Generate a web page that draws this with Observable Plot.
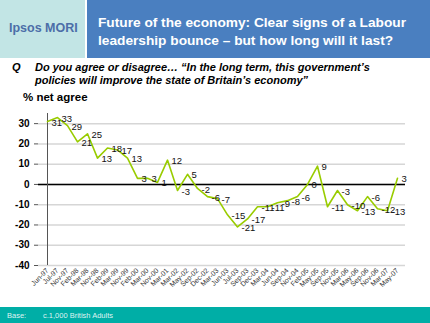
<!DOCTYPE html>
<html>
<head>
<meta charset="utf-8">
<script src="https://cdn.jsdelivr.net/npm/d3@7"></script>
<script src="https://cdn.jsdelivr.net/npm/@observablehq/plot@0.6"></script>
<style>
  body { margin: 0; background: #fff; font-family: "Liberation Sans", Arial, sans-serif; }
  #wrap { position: relative; width: 430px; height: 323px; overflow: hidden; background: #fff; }
  .abs { position: absolute; }
  #logo { left: 0; top: 0; width: 85px; height: 58px; background: #c2e5e5; }
  #logo span { position: absolute; left: 9px; top: 21px; font-size: 12.5px; font-weight: bold; color: #4c6ea8; white-space: nowrap; }
  #title { left: 87px; top: 0; width: 343px; height: 58px; background: #4a7fc0; }
  #title div { position: absolute; left: 11px; top: 14px; font-size: 13.7px; font-weight: bold; color: #fff; line-height: 18px; white-space: nowrap; }
  #q { left: 12px; top: 61px; font-size: 11px; font-weight: bold; font-style: italic; color: #000; line-height: 13px; }
  #qt { left: 35px; top: 61px; font-size: 11px; font-weight: bold; font-style: italic; color: #000; line-height: 13px; white-space: nowrap; }
  #ylab { left: 23px; top: 91px; font-size: 11.5px; font-weight: bold; color: #000; white-space: nowrap; }
  #chart { left: 0; top: 95px; }
  #foot { left: 0; top: 307px; width: 430px; height: 16px; background: #00aea6; color: #dff3f2; font-size: 7.5px; }
  #foot span { position: absolute; top: 4px; white-space: nowrap; }
</style>
</head>
<body>
<div id="wrap">
  <div id="logo" class="abs"><span>Ipsos MORI</span></div>
  <div id="title" class="abs"><div>Future of the economy: Clear signs of a Labour<br>leadership bounce – but how long will it last?</div></div>
  <div id="q" class="abs">Q</div>
  <div id="qt" class="abs">Do you agree or disagree… “In the long term, this government’s<br>policies will improve the state of Britain’s economy”</div>
  <div id="ylab" class="abs">% net agree</div>
  <div id="chart" class="abs"></div>
  <div id="foot" class="abs"><span style="left:7px">Base:</span><span style="left:43px">c.1,000 British Adults</span></div>
</div>
<script>
const months = ["Jun-97","Jul-97","Nov-97","Feb-98","Mar-98","Nov-98","Feb-99","Mar-99","Nov-99","Feb-00","Mar-00","Nov-00","Mar-01","Mar-02","May-02","Sep-02","Dec-02","Mar-03","Jun-03","Jul-03","Sep-03","Dec-03","Mar-04","Jun-04","Sep-04","Nov-04","Feb-05","May-05","Sep-05","Nov-05","Mar-06","May-06","Sep-06","Nov-06","Mar-07","May-07"];
const netAgree = [31,33,29,21,25,13,18,17,13,3,3,1,12,-3,5,-2,-6,-7,-15,-21,-17,-11,-11,-9,-8,-6,0,9,-11,-3,-10,-13,-6,-12,-13,3];
const yTicks = [-40,-30,-20,-10,0,10,20,30];

const data = months.map((m, i) => ({month: m, value: netAgree[i]}));

const chart = Plot.plot({
  width: 430,
  height: 210,
  marginLeft: 38,
  marginRight: 25,
  marginTop: 18,
  marginBottom: 40,
  style: {fontFamily: "'Liberation Sans', Arial, sans-serif", background: "transparent", overflow: "visible"},
  x: {type: "point", domain: months, padding: 0, label: null},
  y: {domain: [-40, 35], label: null},
  marks: [
    Plot.gridY(yTicks, {stroke: "#d6d6d6", strokeOpacity: 1, strokeWidth: 1.5}),
    Plot.ruleY([0], {stroke: "#000", strokeWidth: 1.5}),
    Plot.ruleX([months[0]], {y1: -40, y2: 35, stroke: "#555", strokeWidth: 1}),
    Plot.axisY(yTicks, {label: null, tickSize: 4, tickPadding: 5, fontSize: 10, fontWeight: "bold", fill: "#000", stroke: "#555", tickFormat: d => String(d)}),
    Plot.axisX({label: null, tickRotate: -45, tickSize: 0, tickPadding: 4, fontSize: 7, fill: "#333"}),
    Plot.line(data, {x: "month", y: "value", stroke: "#99cc00", strokeWidth: 1.6}),
    Plot.text(data, {x: "month", y: "value", text: d => String(d.value), textAnchor: "start", dx: 4, dy: 1, fontSize: 9.5, fill: "#111"})
  ]
});
document.getElementById("chart").appendChild(chart);
</script>
</body>
</html>
